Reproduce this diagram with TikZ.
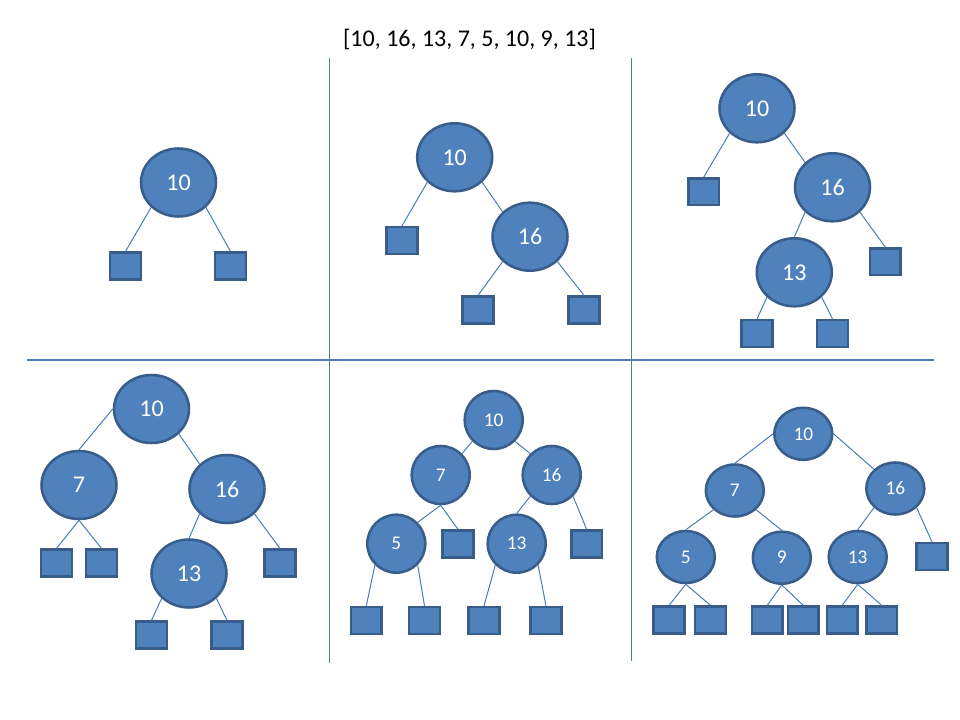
\documentclass[tikz,border=0pt]{standalone}
\usepackage{fontspec}
\setmainfont{Carlito}
\usetikzlibrary{shapes.geometric}
\definecolor{nodefill}{HTML}{4F81BD}
\definecolor{nodeline}{HTML}{385D8A}
\definecolor{conn}{HTML}{4A7EBB}
\tikzset{
  bignode/.style={ellipse, draw=nodeline, fill=nodefill, line width=1.9pt, inner sep=0pt,
    minimum width=56.25pt, minimum height=51pt, text=white, font=\fontsize{18}{20}\selectfont},
  circnode/.style={ellipse, draw=nodeline, fill=nodefill, line width=1.9pt, inner sep=0pt,
    minimum width=43.5pt, minimum height=43.5pt, text=white, font=\fontsize{14.5}{16}\selectfont},
  smallnode/.style={ellipse, draw=nodeline, fill=nodefill, line width=1.9pt, inner sep=0pt,
    minimum width=43.5pt, minimum height=39pt, text=white, font=\fontsize{14.5}{16}\selectfont},
  leaf/.style={rectangle, draw=nodeline, fill=nodefill, line width=1.9pt, inner sep=0pt,
    minimum width=23pt, minimum height=20pt},
  edge/.style={draw=conn, line width=0.75pt},
  divider/.style={draw=conn, line width=1.1pt},
}
\begin{document}
\begin{tikzpicture}[x=0.75pt,y=-0.75pt]
\useasboundingbox[fill=white] (0,0) rectangle (960,720);

% title
\node[anchor=base, font=\fontsize{18}{20}\selectfont, inner sep=0pt] (title) at (469.5,46.7) {[10, 16, 13, 7, 5, 10, 9, 13]};

% dividers
\coordinate (v1t) at (329.5,58);  \coordinate (v1b) at (329.5,663);
\coordinate (v2t) at (631.5,58);  \coordinate (v2b) at (631.5,661);
\coordinate (hl) at (27,360);     \coordinate (hr) at (934,360);
\draw[divider] (v1t) -- (v1b);
\draw[divider] (v2t) -- (v2b);
\draw[divider] (hl) -- (hr);

% ---------- panel 1
\node[bignode] (a10) at (178.5,182.5) {10};
\node[leaf] (as1) at (125.5,266) {};
\node[leaf] (as2) at (230.5,266) {};
\draw[edge] (a10.south west) -- (as1.north);
\draw[edge] (a10.south east) -- (as2.north);

% ---------- panel 2
\node[bignode] (b10) at (454.7,157.3) {10};
\node[bignode] (b16) at (530,236.7) {16};
\node[leaf] (bs1) at (402,240.5) {};
\node[leaf] (bs2) at (478,310) {};
\node[leaf] (bs3) at (584,310) {};
\draw[edge] (b10.south west) -- (bs1.north);
\draw[edge] (b10.south east) -- (b16.north west);
\draw[edge] (b16.south west) -- (bs2.north);
\draw[edge] (b16.south east) -- (bs3.north);

% ---------- panel 3
\node[bignode] (c10) at (757,108.3) {10};
\node[bignode] (c16) at (832.5,187.3) {16};
\node[bignode] (c13) at (794.3,272.3) {13};
\node[leaf] (cs1) at (703.7,191.8) {};
\node[leaf] (cs2) at (885.3,261.7) {};
\node[leaf] (cs3) at (757,333.5) {};
\node[leaf] (cs4) at (832.5,333.5) {};
\draw[edge] (c10.south west) -- (cs1.north);
\draw[edge] (c10.south east) -- (c16.north west);
\draw[edge] (c16.south west) -- (c13.north);
\draw[edge] (c16.south east) -- (cs2.north);
\draw[edge] (c13.south west) -- (cs3.north);
\draw[edge] (c13.south east) -- (cs4.north);

% ---------- panel 4
\node[bignode] (d10) at (151.5,409) {10};
\node[bignode] (d7) at (79,485) {7};
\node[bignode] (d16) at (227,489) {16};
\node[bignode] (d13) at (189,573.5) {13};
\node[leaf] (ds1) at (56.5,563) {};
\node[leaf] (ds2) at (101.5,563) {};
\node[leaf] (ds3) at (280,563) {};
\node[leaf] (ds4) at (151.5,635) {};
\node[leaf] (ds5) at (227,635) {};
\draw[edge] (d10.west) -- (d7.north);
\draw[edge] (d10.south east) -- (d16.north west);
\draw[edge] (d7.south) -- (ds1.north);
\draw[edge] (d7.south) -- (ds2.north);
\draw[edge] (d16.south west) -- (d13.north);
\draw[edge] (d16.south east) -- (ds3.north);
\draw[edge] (d13.south west) -- (ds4.north);
\draw[edge] (d13.south east) -- (ds5.north);

% ---------- panel 5
\node[circnode] (e10) at (493.7,420) {10};
\node[circnode] (e7) at (440.7,475) {7};
\node[circnode] (e16) at (551.7,475) {16};
\node[circnode] (e5) at (396.3,543.7) {5};
\node[circnode] (e13) at (516.7,543.7) {13};
\node[leaf] (es1) at (458,544) {};
\node[leaf] (es2) at (586.7,544) {};
\node[leaf] (es3) at (366.3,620.5) {};
\node[leaf] (es4) at (424.5,620.5) {};
\node[leaf] (es5) at (484,620.5) {};
\node[leaf] (es6) at (546,620.5) {};
\draw[edge] (e10.south west) -- (e7.north east);
\draw[edge] (e10.south east) -- (e16.north west);
\draw[edge] (e7.south) -- (e5.north east);
\draw[edge] (e7.south) -- (es1.north);
\draw[edge] (e16.south west) -- (e13.north);
\draw[edge] (e16.south east) -- (es2.north);
\draw[edge] (e5.south west) -- (es3.north);
\draw[edge] (e5.south east) -- (es4.north);
\draw[edge] (e13.south west) -- (es5.north);
\draw[edge] (e13.south east) -- (es6.north);

% ---------- panel 6
\node[smallnode] (f10) at (803.3,433.8) {10};
\node[smallnode] (f7) at (734.8,490.5) {7};
\node[smallnode] (f16) at (895.3,488.5) {16};
\node[smallnode] (f5) at (685.8,557) {5};
\node[smallnode] (f9) at (781.8,557.7) {9};
\node[smallnode] (f13) at (857.7,557) {13};
\node[leaf] (fs1) at (932,556.5) {};
\node[leaf] (fs2) at (669,620) {};
\node[leaf] (fs3) at (710.5,620) {};
\node[leaf] (fs4) at (767.2,620) {};
\node[leaf] (fs5) at (803.3,620) {};
\node[leaf] (fs6) at (842.2,620) {};
\node[leaf] (fs7) at (881.7,620) {};
\draw[edge] (f10.west) -- (f7.north);
\draw[edge] (f10.east) -- (f16.north west);
\draw[edge] (f7.south west) -- (f5.north);
\draw[edge] (f7.south east) -- (f9.north);
\draw[edge] (f16.south west) -- (f13.north);
\draw[edge] (f16.south east) -- (fs1.north);
\draw[edge] (f5.south) -- (fs2.north);
\draw[edge] (f5.south) -- (fs3.north);
\draw[edge] (f9.south) -- (fs4.north);
\draw[edge] (f9.south) -- (fs5.north);
\draw[edge] (f13.south) -- (fs6.north);
\draw[edge] (f13.south) -- (fs7.north);
\end{tikzpicture}
\end{document}
